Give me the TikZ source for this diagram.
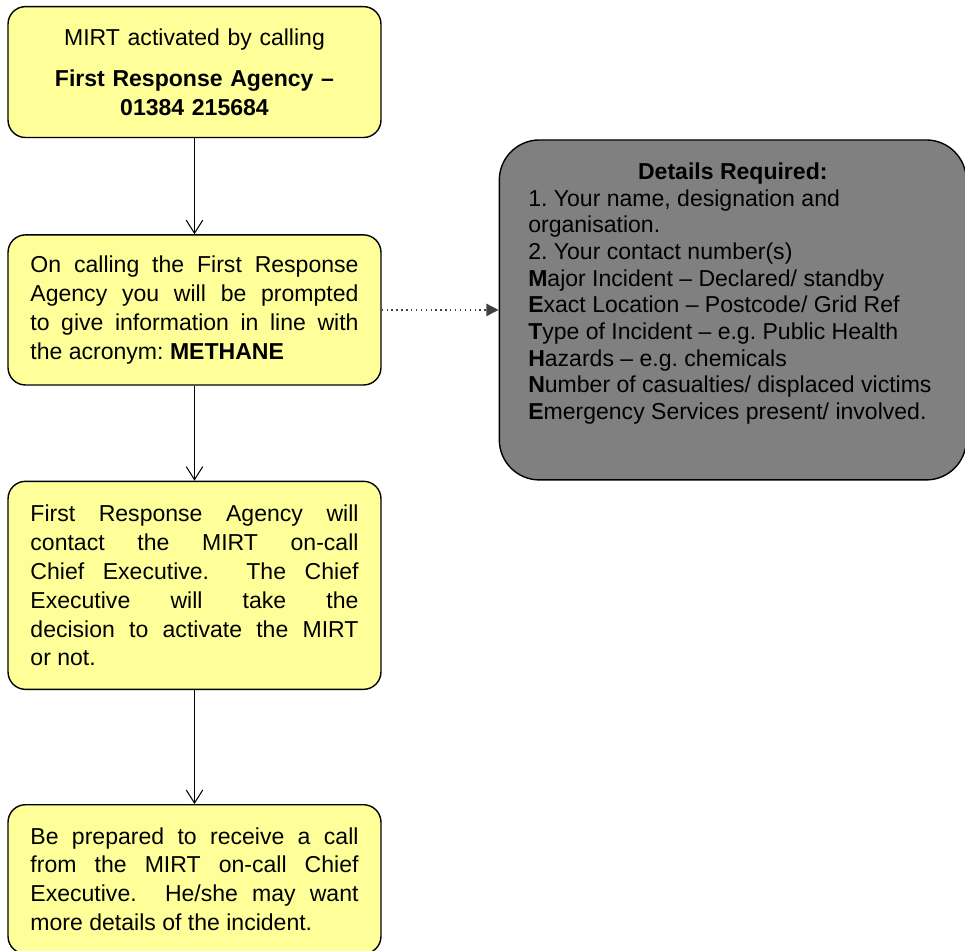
\documentclass[tikz,border=0pt]{standalone}
\usepackage{fontspec}
\setmainfont{Liberation Sans}
\usetikzlibrary{positioning}
\usetikzlibrary{arrows.meta}
\definecolor{boxyellow}{RGB}{255,255,153}
\definecolor{boxgray}{RGB}{128,128,128}
\frenchspacing

\begin{document}
\begin{tikzpicture}[-{Straight Barb[length=7.5pt,width=9.5pt]},line width=0.6pt,
			font=\fontsize{13.2}{16.6}\selectfont]
			\tikzstyle{stagebox}=[draw,line width=0.8pt,fill=boxyellow,rounded corners=10pt,
			text width=188pt,inner xsep=12.85pt,align=justify]
			\tikzstyle{detailbox}=[draw,line width=0.8pt,fill=boxgray,rounded corners=23pt,
			inner xsep=16.6pt,inner ysep=13pt]
			
			\useasboundingbox (-111.45pt,3.4pt) rectangle (441.5pt,-541.5pt);
			
			\node[stagebox,minimum height=75pt,align=center,anchor=north] (mirt) at (0,0)
			{MIRT activated by calling\\[7pt]
				\textbf{First Response Agency –}\\
				\textbf{01384 215684}};
			\node[stagebox,minimum height=86pt]   (methane) [below=55pt of mirt]
			{On calling the First Response\linebreak
				Agency you will be prompted\linebreak
				to give information in line with\linebreak
				the acronym: \textbf{METHANE}};
			\node[stagebox,minimum height=119.2pt] (contact) [below=54.4pt of methane]
			{First Response Agency will\linebreak
				contact the MIRT on-call\linebreak
				Chief Executive.\ \ The Chief\linebreak
				Executive will take the\linebreak
				decision to activate the MIRT\linebreak
				or not.};
			\node[stagebox,minimum height=85.4pt] (prepare) [below=65.3pt of contact]
			{Be prepared to receive a call\linebreak
				from the MIRT on-call Chief\linebreak
				Executive.\ \ He/she may want\linebreak
				more details of the incident.};
			
			\node[detailbox]      (details) [right=67pt of methane]
			{\parbox[c][168.8pt][t]{234.4pt}{\fontsize{13.2}{15.3}\selectfont
					\centering\textbf{Details Required:}\par
					\raggedright
					1. Your name, designation and\\
					organisation.\\
					2. Your contact number(s)\\
					\textbf{M}ajor Incident – Declared/ standby\\
					\textbf{E}xact Location – Postcode/ Grid Ref\\
					\textbf{T}ype of Incident – e.g. Public Health\\
					\textbf{H}azards – e.g. chemicals\\
					\textbf{N}umber of casualties/ displaced victims\\
					\textbf{E}mergency Services present/ involved.}};
			
			\path (mirt)    edge (methane)
			(methane) edge (contact)
			(contact) edge (prepare)
			(methane) edge [dotted,line width=0.8pt,black!75,-{Triangle[length=7pt,width=7pt]}] (details);
\end{tikzpicture}
\end{document}
